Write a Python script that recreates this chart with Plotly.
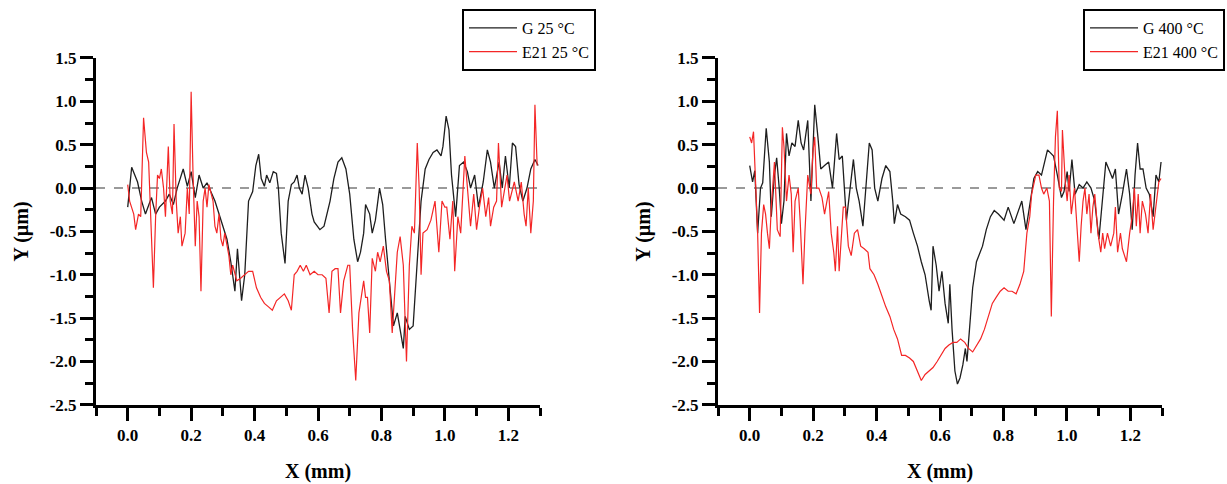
import plotly.graph_objects as go

# ---------------- data ----------------
g25_x = [0.000,0.0125,0.031,0.044,0.056,0.066,0.075,0.088,0.100,0.119,0.131,0.144,0.156,0.175,0.188,0.200,0.213,0.225,0.238,0.250,0.263,0.275,0.288,0.300,0.313,0.325,0.338,0.346,0.359,0.369,0.381,0.394,0.404,0.413,0.421,0.431,0.438,0.448,0.459,0.469,0.475,0.484,0.491,0.496,0.506,0.516,0.525,0.534,0.541,0.550,0.559,0.569,0.581,0.588,0.606,0.619,0.638,0.650,0.663,0.675,0.688,0.700,0.713,0.725,0.734,0.744,0.750,0.763,0.771,0.781,0.794,0.804,0.813,0.825,0.838,0.850,0.859,0.869,0.875,0.888,0.900,0.913,0.925,0.938,0.950,0.963,0.975,0.988,0.994,1.004,1.013,1.021,1.034,1.046,1.059,1.071,1.081,1.094,1.106,1.121,1.134,1.144,1.156,1.171,1.181,1.191,1.203,1.213,1.223,1.234,1.246,1.259,1.271,1.284,1.294]
g25_y = [-0.22,0.24,0.07,-0.15,-0.30,-0.19,-0.11,-0.30,-0.22,-0.15,-0.07,-0.19,0.00,0.22,0.02,0.19,-0.11,0.15,0.00,0.06,-0.04,-0.15,-0.30,-0.44,-0.59,-0.85,-1.19,-0.70,-1.30,-1.00,-0.15,-0.04,0.26,0.39,0.11,0.02,0.15,0.06,0.19,0.17,0.00,-0.52,-0.74,-0.87,-0.15,0.04,0.07,0.15,0.00,-0.07,0.15,0.00,-0.30,-0.39,-0.48,-0.44,-0.15,0.11,0.30,0.35,0.22,-0.07,-0.59,-0.85,-0.74,-0.52,-0.19,-0.30,-0.52,-0.37,0.00,-0.19,-0.59,-1.07,-1.59,-1.44,-1.63,-1.85,-1.48,-1.63,-1.59,-0.81,-0.15,0.22,0.33,0.41,0.44,0.37,0.48,0.83,0.67,0.15,-0.33,0.26,0.30,0.19,0.00,0.15,-0.22,0.07,0.44,0.30,0.00,0.30,0.00,0.37,0.00,0.52,0.48,0.04,-0.15,0.00,0.22,0.33,0.26]

e25_x = [0.000,0.006,0.019,0.025,0.034,0.041,0.050,0.059,0.066,0.075,0.081,0.088,0.094,0.100,0.106,0.113,0.119,0.128,0.134,0.141,0.146,0.153,0.159,0.166,0.171,0.181,0.188,0.194,0.200,0.206,0.213,0.219,0.225,0.231,0.238,0.244,0.250,0.256,0.263,0.269,0.275,0.281,0.288,0.294,0.300,0.306,0.319,0.325,0.331,0.344,0.356,0.369,0.381,0.394,0.406,0.419,0.431,0.444,0.456,0.469,0.481,0.494,0.506,0.516,0.525,0.534,0.544,0.554,0.563,0.575,0.588,0.600,0.613,0.625,0.635,0.644,0.654,0.663,0.671,0.681,0.694,0.700,0.709,0.719,0.729,0.738,0.744,0.750,0.756,0.763,0.771,0.781,0.788,0.796,0.806,0.816,0.825,0.834,0.841,0.850,0.859,0.869,0.879,0.888,0.896,0.904,0.913,0.919,0.925,0.931,0.944,0.956,0.969,0.981,0.991,1.000,1.006,1.016,1.025,1.031,1.041,1.050,1.063,1.071,1.081,1.091,1.100,1.109,1.119,1.129,1.138,1.144,1.154,1.163,1.169,1.179,1.188,1.196,1.204,1.213,1.219,1.231,1.241,1.250,1.256,1.263,1.271,1.279,1.284,1.291]
e25_y = [0.04,-0.15,-0.30,-0.48,-0.30,-0.33,0.81,0.41,0.30,-0.52,-1.15,-0.33,0.15,0.11,0.22,0.00,-0.33,0.48,-0.15,-0.30,0.74,-0.15,-0.52,-0.33,-0.67,-0.52,0.00,-0.30,1.11,0.15,-0.67,-0.15,-0.33,-1.19,-0.15,0.00,-0.22,0.04,-0.07,-0.15,-0.44,-0.52,-0.30,-0.59,-0.67,-0.52,-0.78,-1.00,-0.89,-1.07,-1.04,-1.00,-0.96,-0.96,-1.15,-1.26,-1.33,-1.37,-1.41,-1.30,-1.26,-1.22,-1.30,-1.41,-1.00,-0.96,-0.89,-0.96,-0.89,-1.00,-0.96,-1.00,-1.00,-1.04,-1.44,-0.96,-0.93,-0.93,-1.44,-1.07,-0.89,-0.89,-1.63,-2.22,-1.44,-1.19,-1.07,-1.26,-1.26,-1.67,-0.81,-0.96,-0.74,-0.85,-0.67,-0.96,-1.07,-1.67,-1.26,-0.74,-0.56,-0.89,-2.00,-0.89,-0.44,-0.52,0.52,0.00,-1.00,-0.52,-0.48,-0.37,-0.15,-0.74,-0.15,-0.22,-0.22,-0.59,-0.15,-0.96,-0.33,-0.52,0.37,0.00,-0.44,-0.07,-0.48,-0.22,0.00,-0.33,-0.11,-0.44,-0.22,-0.15,0.52,-0.22,0.00,0.15,-0.15,0.00,0.07,-0.15,0.07,-0.30,-0.44,0.00,-0.52,-0.15,0.96,0.26]

g400_x = [0.000,0.009,0.016,0.025,0.034,0.041,0.052,0.062,0.068,0.078,0.085,0.093,0.100,0.108,0.116,0.124,0.133,0.143,0.153,0.162,0.170,0.183,0.193,0.199,0.205,0.215,0.224,0.236,0.249,0.261,0.274,0.282,0.292,0.305,0.317,0.327,0.336,0.345,0.357,0.367,0.377,0.386,0.394,0.404,0.417,0.429,0.442,0.451,0.456,0.466,0.476,0.491,0.504,0.516,0.529,0.541,0.553,0.566,0.572,0.578,0.588,0.597,0.606,0.616,0.626,0.631,0.638,0.647,0.655,0.663,0.672,0.680,0.685,0.693,0.703,0.715,0.734,0.746,0.759,0.771,0.784,0.802,0.815,0.833,0.846,0.858,0.871,0.883,0.896,0.908,0.920,0.939,0.958,0.970,0.983,0.991,1.001,1.007,1.016,1.026,1.039,1.051,1.063,1.076,1.088,1.101,1.111,1.123,1.132,1.144,1.153,1.163,1.175,1.188,1.198,1.206,1.215,1.223,1.231,1.240,1.250,1.260,1.272,1.281,1.290,1.297]
g400_y = [0.26,0.07,0.20,-0.52,0.00,0.06,0.69,0.30,-0.33,0.15,0.35,0.00,-0.41,-0.15,0.63,0.37,0.52,0.48,0.78,0.52,0.44,0.78,-0.15,0.33,0.96,0.59,0.22,0.26,0.30,0.00,0.63,0.33,0.37,-0.37,0.00,0.33,0.00,-0.15,-0.44,0.00,0.52,0.44,0.00,-0.15,0.11,0.26,0.19,-0.15,-0.41,-0.19,-0.30,-0.33,-0.37,-0.52,-0.67,-0.85,-1.00,-1.30,-1.41,-0.67,-0.89,-1.19,-0.96,-1.33,-1.56,-1.11,-1.63,-2.11,-2.26,-2.19,-2.04,-1.85,-2.00,-1.63,-1.15,-0.85,-0.67,-0.48,-0.33,-0.26,-0.30,-0.37,-0.22,-0.41,-0.26,-0.15,-0.48,-0.22,0.11,0.19,0.15,0.44,0.37,0.15,-0.11,-0.04,0.19,-0.04,0.33,-0.07,0.04,0.00,0.07,0.00,-0.15,-0.59,-0.22,0.30,0.22,0.11,0.22,-0.30,-0.07,0.22,-0.07,-0.48,0.15,0.52,0.22,0.22,0.00,-0.07,-0.33,0.15,0.07,0.30]

e400_x = [0.000,0.006,0.012,0.019,0.025,0.031,0.037,0.044,0.050,0.056,0.062,0.068,0.078,0.087,0.096,0.103,0.108,0.116,0.124,0.131,0.137,0.143,0.153,0.159,0.168,0.174,0.183,0.193,0.199,0.205,0.211,0.218,0.228,0.236,0.243,0.249,0.257,0.265,0.270,0.277,0.282,0.290,0.295,0.302,0.311,0.320,0.330,0.340,0.350,0.361,0.373,0.379,0.392,0.404,0.417,0.429,0.442,0.454,0.466,0.479,0.491,0.504,0.516,0.529,0.541,0.553,0.566,0.578,0.591,0.603,0.616,0.628,0.641,0.653,0.665,0.678,0.690,0.703,0.715,0.728,0.740,0.752,0.765,0.777,0.790,0.802,0.815,0.827,0.840,0.852,0.864,0.874,0.883,0.889,0.902,0.912,0.920,0.927,0.937,0.945,0.951,0.958,0.964,0.970,0.976,0.983,0.986,0.995,1.001,1.007,1.014,1.024,1.032,1.039,1.045,1.051,1.057,1.063,1.070,1.076,1.082,1.088,1.098,1.107,1.113,1.119,1.128,1.138,1.148,1.153,1.160,1.169,1.175,1.188,1.198,1.206,1.213,1.219,1.225,1.231,1.238,1.248,1.256,1.264,1.272,1.281,1.290,1.297]
e400_y = [0.59,0.52,0.65,0.00,-0.52,-1.44,-0.52,-0.19,-0.30,-0.52,-0.70,-0.22,0.30,-0.48,-0.56,0.70,0.48,-0.15,0.15,-0.07,-0.74,-0.15,0.00,-0.37,-1.11,-0.52,0.15,-0.07,0.41,0.59,0.00,0.00,-0.11,-0.30,-0.15,-0.04,-0.52,-0.74,-0.96,-0.44,-0.96,-0.52,-0.22,-0.22,-0.67,-0.78,-0.52,-0.48,-0.67,-0.70,-0.74,-0.93,-1.00,-1.11,-1.26,-1.37,-1.48,-1.63,-1.74,-1.93,-1.93,-1.96,-2.00,-2.11,-2.22,-2.15,-2.11,-2.07,-2.00,-1.93,-1.85,-1.81,-1.78,-1.78,-1.74,-1.78,-1.85,-1.89,-1.81,-1.74,-1.63,-1.48,-1.33,-1.26,-1.19,-1.15,-1.19,-1.19,-1.22,-1.11,-0.96,-0.52,-0.33,-0.07,0.15,0.15,0.00,-0.07,0.00,-0.15,-1.48,-0.15,0.59,0.89,0.00,-0.04,0.67,0.07,-0.15,0.15,-0.30,0.00,-0.52,-0.85,-0.44,-0.15,0.00,-0.30,-0.07,-0.52,-0.22,-0.07,-0.52,-0.74,-0.52,-0.70,-0.52,-0.67,-0.52,-0.22,-0.74,-0.52,-0.70,-0.85,-0.52,-0.33,0.00,-0.44,-0.07,-0.52,-0.15,-0.30,-0.52,-0.07,-0.48,-0.22,0.07,0.11]

names_left = ["G 25 °C", "E21 25 °C"]
names_right = ["G 400 °C", "E21 400 °C"]

x_tickvals = [0.0, 0.2, 0.4, 0.6, 0.8, 1.0, 1.2]
x_ticktext = ["0.0", "0.2", "0.4", "0.6", "0.8", "1.0", "1.2"]
y_tickvals = [1.5, 1.0, 0.5, 0.0, -0.5, -1.0, -1.5, -2.0, -2.5]
y_ticktext = ["1.5", "1.0", "0.5", "0.0", "-0.5", "-1.0", "-1.5", "-2.0", "-2.5"]

x_range = [-0.1, 1.3]
y_range = [-2.5, 1.5]

BLACK = "#1e1e1e"
RED = "rgb(244,38,38)"
FONT = "Palatino Linotype, Book Antiqua, Palatino, Liberation Serif, DejaVu Serif, serif"

fig = go.Figure()
fig.add_trace(go.Scatter(x=g25_x, y=g25_y, mode="lines", name=names_left[0],
                         line=dict(color=BLACK, width=1.3), xaxis="x", yaxis="y", legend="legend"))
fig.add_trace(go.Scatter(x=e25_x, y=e25_y, mode="lines", name=names_left[1],
                         line=dict(color=RED, width=1.2), xaxis="x", yaxis="y", legend="legend"))
fig.add_trace(go.Scatter(x=g400_x, y=g400_y, mode="lines", name=names_right[0],
                         line=dict(color=BLACK, width=1.3), xaxis="x2", yaxis="y2", legend="legend2"))
fig.add_trace(go.Scatter(x=e400_x, y=e400_y, mode="lines", name=names_right[1],
                         line=dict(color=RED, width=1.2), xaxis="x2", yaxis="y2", legend="legend2"))

W, H = 1227, 484
ydom = [(H - 412) / H, (H - 51) / H]
TICKFONT = dict(family=FONT, size=17, color="black", weight="bold")
TITLEFONT = dict(family=FONT, size=20, color="black", weight="bold")

def xax(domain, anchor):
    return dict(domain=domain, anchor=anchor, range=x_range,
                tickmode="array", tickvals=x_tickvals, ticktext=x_ticktext,
                ticks="outside", ticklen=13, tickwidth=3, tickcolor="black",
                minor=dict(dtick=0.1, tick0=0, ticks="outside", ticklen=8, tickwidth=3, tickcolor="black"),
                showline=True, linecolor="black", linewidth=3, showgrid=False, zeroline=False,
                tickfont=TICKFONT,
                title=dict(text="X (mm)", font=TITLEFONT, standoff=20))

def yax(anchor, domain):
    return dict(domain=domain, anchor=anchor, range=y_range,
                tickmode="array", tickvals=y_tickvals, ticktext=y_ticktext,
                ticks="outside", ticklen=13, tickwidth=3, tickcolor="black",
                minor=dict(dtick=0.25, tick0=0, ticks="outside", ticklen=8, tickwidth=3, tickcolor="black"),
                showline=True, linecolor="black", linewidth=3, showgrid=False, zeroline=False,
                tickfont=TICKFONT,
                title=dict(text="Y (µm)", font=TITLEFONT, standoff=16))

legend_common = dict(bgcolor="white", bordercolor="black", borderwidth=2,
                     font=dict(family=FONT, size=16, color="black"),
                     itemwidth=48, tracegroupgap=0, yanchor="top", xanchor="right", y=1.0)

fig.update_layout(
    width=W, height=H, margin=dict(l=0, r=0, t=0, b=0),
    paper_bgcolor="white", plot_bgcolor="white",
    xaxis=xax([96 / W, 540 / W], "y"),
    yaxis=yax("x", ydom),
    xaxis2=xax([718 / W, 1162 / W], "y2"),
    yaxis2=yax("x2", ydom),
    legend=dict(x=596 / W, **legend_common),
    legend2=dict(x=1225 / W, **legend_common),
    showlegend=True,
)

for xr, yr in (("x", "y"), ("x2", "y2")):
    fig.add_shape(type="line", xref=xr, yref=yr, x0=x_range[0], x1=x_range[1], y0=0, y1=0,
                  line=dict(color="#9a9a9a", width=2, dash="dash"), layer="below")

fig.write_html("out.html")
